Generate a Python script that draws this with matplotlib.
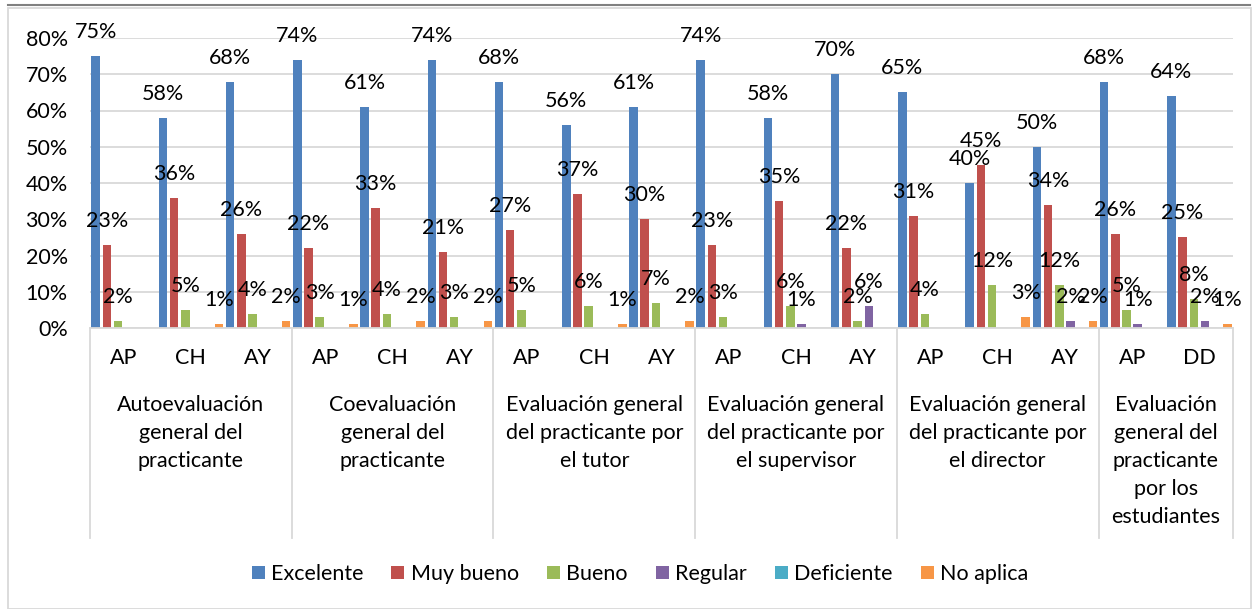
import matplotlib
matplotlib.use("Agg")
import matplotlib.pyplot as plt
from matplotlib.patches import Rectangle, Patch
from matplotlib.lines import Line2D

plt.rcParams['font.family'] = ['Lato', 'DejaVu Sans']

# sub-categories (in order) and the groups they belong to
subcats = ['AP', 'CH', 'AY', 'AP', 'CH', 'AY', 'AP', 'CH', 'AY',
           'AP', 'CH', 'AY', 'AP', 'CH', 'AY', 'AP', 'DD']
groups = ['Autoevaluación\ngeneral del\npracticante',
          'Coevaluación\ngeneral del\npracticante',
          'Evaluación general\ndel practicante por\nel tutor',
          'Evaluación general\ndel practicante por\nel supervisor',
          'Evaluación general\ndel practicante por\nel director',
          'Evaluación\ngeneral del\npracticante\npor los\nestudiantes']
group_sizes = [3, 3, 3, 3, 3, 2]

series = ['Excelente', 'Muy bueno', 'Bueno', 'Regular', 'Deficiente', 'No aplica']
colors = ['#4F81BD', '#C0504D', '#9BBB59', '#8064A2', '#4BACC6', '#F79646']

# values in %, 0 = empty cell (no label)
excelente = [75, 58, 68, 74, 61, 74, 68, 56, 61, 74, 58, 70, 65, 40, 50, 68, 64]
muy_bueno = [23, 36, 26, 22, 33, 21, 27, 37, 30, 23, 35, 22, 31, 45, 34, 26, 25]
bueno     = [2, 5, 4, 3, 4, 3, 5, 6, 7, 3, 6, 2, 4, 12, 12, 5, 8]
regular   = [0, 0, 0, 0, 0, 0, 0, 0, 0, 0, 1, 6, 0, 0, 2, 1, 2]
deficiente = [0] * 17
no_aplica = [0, 1, 2, 1, 2, 2, 0, 1, 2, 0, 0, 0, 0, 3, 2, 0, 1]
data = [excelente, muy_bueno, bueno, regular, deficiente, no_aplica]

W, H = 1260, 609
fig = plt.figure(figsize=(W / 100, H / 100), dpi=100)

# plot area in pixels: x 90..1233, y 38 (80%) .. 328 (0%)
L, R, T, B = 90, 1233, 38, 328
ax = fig.add_axes([L / W, 1 - B / H, (R - L) / W, (B - T) / H])

def ypx(p):
    # pixel row -> axes fraction
    return (B - p) / (B - T)

n = len(subcats)
slot = 1 / 6
bw = slot * 0.76
fs = 15.5
for j, vals in enumerate(data):
    for i, v in enumerate(vals):
        if v == 0:
            continue
        x = i - 0.5 + slot * (j + 0.5)
        ax.bar(x, v, width=bw, color=colors[j], zorder=2)
        ax.annotate(f"{v}%", (x, v), xytext=(0, 10), textcoords='offset points',
                    ha='center', va='bottom', fontsize=fs, color='black', zorder=3)

ax.set_xlim(-0.5, n - 0.5)
ax.set_ylim(0, 80)
ax.set_yticks(range(0, 81, 10))
ax.set_yticklabels([f"{t}%" for t in range(0, 81, 10)], fontsize=fs)
ax.yaxis.grid(True, color='#d9d9d9', linewidth=1.3, zorder=0)
ax.set_axisbelow(True)
ax.set_xticks([])
for s in ['top', 'right', 'left']:
    ax.spines[s].set_visible(False)
ax.spines['bottom'].set_color('#d9d9d9')
ax.spines['bottom'].set_linewidth(1.3)
ax.tick_params(axis='y', length=0, pad=16)

tr = ax.get_xaxis_transform()
# sub-category labels
for i, lab in enumerate(subcats):
    ax.text(i, ypx(358), lab, transform=tr, ha='center', va='center',
            fontsize=fs, clip_on=False)

# group labels and separators
start = 0
bounds = [-0.5]
for g, size in zip(groups, group_sizes):
    c = start + (size - 1) / 2
    ax.text(c, ypx(395), g, transform=tr, ha='center', va='top',
            fontsize=fs, linespacing=1.5, clip_on=False)
    start += size
    bounds.append(start - 0.5)
for b in bounds:
    ax.add_line(Line2D([b, b], [0, ypx(538)], transform=tr, color='#d9d9d9',
                       linewidth=1.3, clip_on=False))

# outer chart border
fig.patches.append(Rectangle((8 / W, 0), 1243 / W, 1 - 8 / H, transform=fig.transFigure,
                             fill=False, edgecolor='#d9d9d9', linewidth=1.3))
fig.add_artist(Line2D([8 / W, 1250 / W], [1 - 5 / H, 1 - 5 / H], transform=fig.transFigure,
                      color='#808080', linewidth=1.5))

handles = [Patch(facecolor=c, label=s) for c, s in zip(colors, series)]
fig.legend(handles=handles, loc='center', bbox_to_anchor=(640 / W, 1 - 574 / H),
           ncol=6, frameon=False, fontsize=fs, handlelength=0.6, handleheight=0.6,
           handletextpad=0.3, columnspacing=1.3)

fig.savefig('out.png', dpi=100)
